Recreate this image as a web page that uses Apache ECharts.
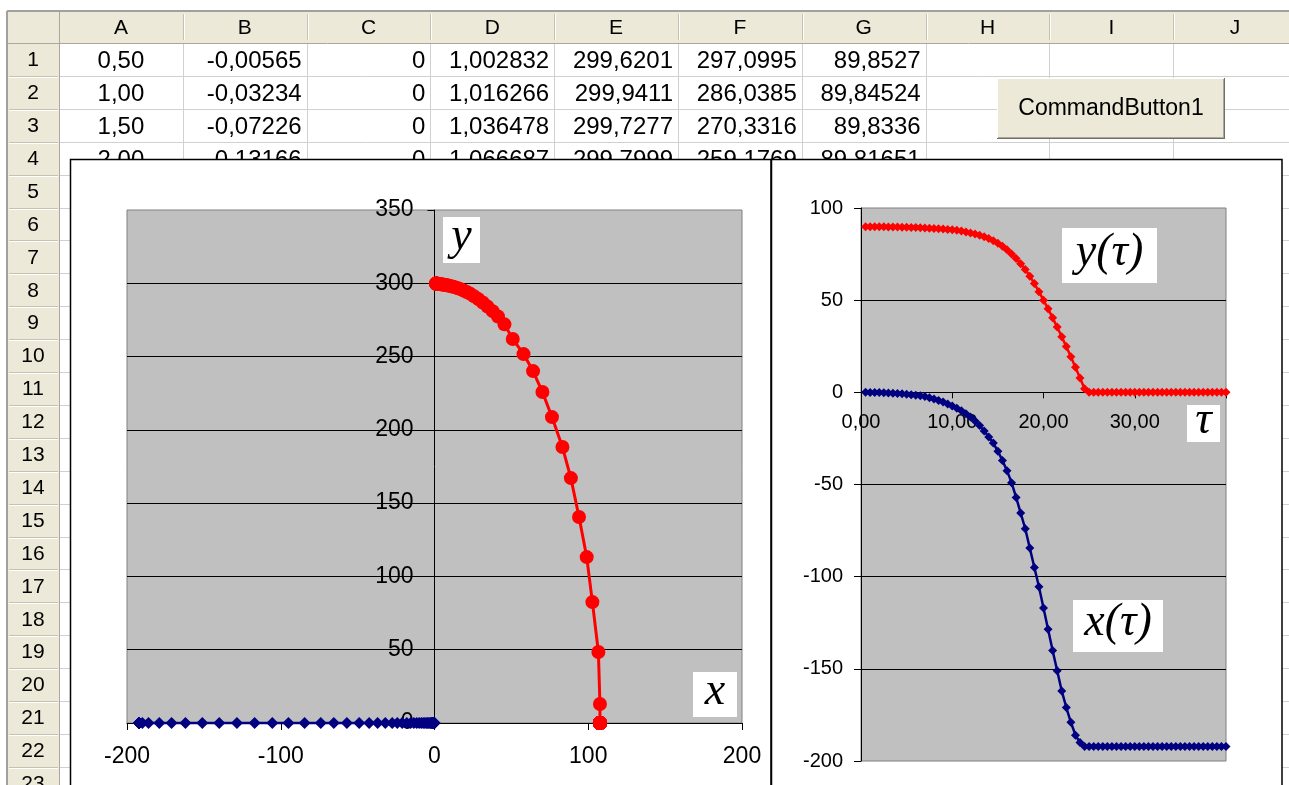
<!DOCTYPE html>
<html>
<head>
<meta charset="utf-8">
<script src="https://cdn.jsdelivr.net/npm/echarts@6/dist/echarts.min.js"></script>
<style>
html,body{margin:0;padding:0;background:#fff;overflow:hidden}
#c{width:1289px;height:785px}
</style>
</head>
<body>
<div id="c"></div>
<script>
// ---------------- DATA ----------------
const columnLetters = ['A','B','C','D','E','F','G','H','I','J'];
const rowNumbers = ['1','2','3','4','5','6','7','8','9','10','11','12','13','14','15','16','17','18','19','20','21','22','23'];
const cellRows = [
  ['0,50','-0,00565','0','1,002832','299,6201','297,0995','89,8527'],
  ['1,00','-0,03234','0','1,016266','299,9411','286,0385','89,84524'],
  ['1,50','-0,07226','0','1,036478','299,7277','270,3316','89,8336'],
  ['2,00','-0,13166','0','1,066687','299,7999','259,1769','89,81651']
];
const buttonLabel = 'CommandButton1';

// column A: tau
const tau = [0.5,1,1.5,2,2.5,3,3.5,4,4.5,5,5.5,6,6.5,7,7.5,8,8.5,9,9.5,10,
  10.5,11,11.5,12,12.5,13,13.5,14,14.5,15,15.5,16,16.5,17,17.5,18,18.5,19,19.5,20,
  20.5,21,21.5,22,22.5,23,23.5,24,24.5,25,25.5,26,26.5,27,27.5,28,28.5,29,29.5,30,
  30.5,31,31.5,32,32.5,33,33.5,34,34.5,35,35.5,36,36.5,37,37.5,38,38.5,39,39.5,40];
// column B: x(tau)
const xTau = [-0.00565,-0.03234,-0.07226,-0.13166,-0.21,-0.31,-0.44,-0.60,-0.80,-1.02,
  -1.28,-1.58,-1.92,-2.3,-2.9,-3.6,-4.4,-5.3,-6.3,-7.4,
  -8.6,-10.0,-11.6,-13.4,-15.5,-18.0,-21.0,-24.2,-27.5,-32,
  -37,-42.5,-49,-57,-65.5,-74,-84.5,-95,-105.5,-117,
  -128.5,-140,-151,-162,-171,-179,-186,-190,-192.2,-192.2,
  -192.2,-192.2,-192.2,-192.2,-192.2,-192.2,-192.2,-192.2,-192.2,-192.2,
  -192.2,-192.2,-192.2,-192.2,-192.2,-192.2,-192.2,-192.2,-192.2,-192.2,
  -192.2,-192.2,-192.2,-192.2,-192.2,-192.2,-192.2,-192.2,-192.2,-192.2];
// column C: zeros
const colC = [0,0,0,0,0,0,0,0,0,0,0,0,0,0,0,0,0,0,0,0,0,0,0,0,0,0,0,0,0,0,0,0,0,0,0,0,0,0,0,0,
  0,0,0,0,0,0,0,0,0,0,0,0,0,0,0,0,0,0,0,0,0,0,0,0,0,0,0,0,0,0,0,0,0,0,0,0,0,0,0,0];
// column D / E: trajectory
const trajX = [1.002832,1.016266,1.036478,1.066687,1.11,1.17,1.25,1.35,1.5,1.7,
  1.95,2.3,2.7,3.2,3.8,4.5,5.3,6.2,7.2,8.3,
  9.5,10.8,12.2,13.7,15.3,17.0,18.9,21.0,23.3,25.8,
  28.5,31.4,34.5,37.8,41.3,45.5,50.9,57.9,64.1,70.2,
  76.4,83.2,88.7,94.0,99.0,102.7,106.6,107.6,107.6,107.6,
  107.6,107.6,107.6,107.6,107.6,107.6,107.6,107.6,107.6,107.6,
  107.6,107.6,107.6,107.6,107.6,107.6,107.6,107.6,107.6,107.6,
  107.6,107.6,107.6,107.6,107.6,107.6,107.6,107.6,107.6,107.6];
const trajY = [299.6201,299.9411,299.7277,299.7999,299.75,299.78,299.72,299.74,299.70,299.68,
  299.64,299.6,299.55,299.5,299.42,299.3,299.2,299.0,298.8,298.6,
  298.3,298.0,297.6,297.2,296.6,296.0,295.1,294.1,292.8,291.1,
  289.2,286.9,284.1,281.0,277.3,272.0,262,251.7,240.1,225.8,
  208.7,188.3,167.1,140.5,113.2,82.5,48.4,13,0,0,
  0,0,0,0,0,0,0,0,0,0,0,0,0,0,0,0,0,0,0,0,0,0,0,0,0,0,0,0,0,0];
// column G: y(tau)
const yTau = [89.8527,89.84524,89.8336,89.81651,89.79,89.76,89.72,89.67,89.61,89.54,
  89.46,89.37,89.27,89.16,89.03,88.89,88.74,88.58,88.4,88.2,
  87.9,87.5,87.0,86.5,85.9,85.2,84.4,83.4,82.3,80.9,
  79.2,77.3,75.1,72.6,69.8,66.6,63.0,59.0,54.6,50.0,
  45.3,40.4,35.4,30.2,24.8,19.3,13.6,7.8,2.0,0,
  0,0,0,0,0,0,0,0,0,0,0,0,0,0,0,0,0,0,0,0,0,0,0,0,0,0,0,0,0,0];

const mathLabels = ['y','x','y(\u03c4)','\u03c4','x(\u03c4)'];

// ---------------- LAYOUT ----------------
const W = 1289, H = 785;
const sheetLeft = 7, sheetTop = 11, headerBottom = 43, rowH = 32.9, rowHeadRight = 59, colW = 123.8;
const SANS = '"Liberation Sans", Arial, sans-serif';
const SERIF = '"Liberation Serif", "Times New Roman", serif';
const els = [];
function line(x1,y1,x2,y2,color,w,z){
  els.push({type:'line',silent:true,z:z||0,shape:{x1:x1,y1:y1,x2:x2,y2:y2},style:{stroke:color,lineWidth:w||1}});
}
function rect(x,y,w,h,style,z){
  els.push({type:'rect',silent:true,z:z||0,shape:{x:x,y:y,width:w,height:h},style:style});
}
function text(str,x,y,font,align,valign,z,color){
  els.push({type:'text',silent:true,z:z||0,style:{text:str,x:x,y:y,font:font,fill:color||'#000',align:align,verticalAlign:valign||'middle'}});
}

rect(0,0,W,H,{fill:'#ffffff'});
// headers
rect(sheetLeft,sheetTop,W-sheetLeft,headerBottom-sheetTop,{fill:'#ECE9D8'});
rect(sheetLeft,headerBottom,rowHeadRight-sheetLeft,H-headerBottom,{fill:'#ECE9D8'});
// cell gridlines + row header separators
for (let i=1;i<=rowNumbers.length;i++){
  const y = Math.round(headerBottom+i*rowH)+0.5;
  line(rowHeadRight,y,W,y,'#D0D0D0');
  line(sheetLeft+2,y,rowHeadRight-1,y,'#C5C2B2');
  line(sheetLeft+2,y+1,rowHeadRight-1,y+1,'#FFFFFF');
}
for (let k=1;k<=columnLetters.length;k++){
  const x = Math.round(rowHeadRight+k*colW)+0.5;
  line(x,headerBottom,x,H,'#D0D0D0');
  line(x,sheetTop+3,x,headerBottom-3,'#C5C2B2');
  line(x+1,sheetTop+3,x+1,headerBottom-3,'#FFFFFF');
}
line(sheetLeft,headerBottom+0.5,W,headerBottom+0.5,'#ACA899');
line(rowHeadRight+0.5,sheetTop,rowHeadRight+0.5,H,'#ACA899');
line(sheetLeft,sheetTop,W,sheetTop,'#A0A0A0',2);
line(sheetLeft,sheetTop,sheetLeft,H,'#A0A0A0',2);
// header texts
columnLetters.forEach((c,k)=>text(c,rowHeadRight+(k+0.5)*colW,28,'21px '+SANS,'center','middle'));
rowNumbers.forEach((r,i)=>text(r,33,headerBottom+(i+0.5)*rowH+1,'21px '+SANS,'center','middle'));
// cell texts
cellRows.forEach((row,i)=>{
  const y = headerBottom+(i+0.5)*rowH+2;
  row.forEach((v,k)=>{
    if (k===0) text(v,rowHeadRight+(k+0.5)*colW,y,'24px '+SANS,'center','middle');
    else text(v,rowHeadRight+(k+1)*colW-5,y,'24px '+SANS,'right','middle');
  });
});
// command button
rect(997,78,228,61,{fill:'#ECE9D8'});
line(997,78.5,1225,78.5,'#FFFFFF',1);
line(997.5,78,997.5,139,'#FFFFFF',1);
line(997,138.5,1225,138.5,'#716F64',1);
line(1224.5,78,1224.5,139,'#716F64',1);
line(998,137.5,1224,137.5,'#ACA899',1);
line(1223.5,79,1223.5,138,'#ACA899',1);
text(buttonLabel,1111,109,'23px '+SANS,'center','middle');

// chart areas
rect(70.5,159.5,700.5,700,{fill:'#ffffff',stroke:'#000000',lineWidth:1.5},1);
rect(771.5,159.5,510.5,700,{fill:'#ffffff',stroke:'#000000',lineWidth:1.5},1);

// math labels
const boxes = [
  [443,217,37,46,46],
  [693,672,44,45,46],
  [1062,228,95,55,46],
  [1187,405,33,37,46],
  [1073,600,90,52,46]
];
boxes.forEach((b,i)=>{
  rect(b[0],b[1],b[2],b[3],{fill:'#ffffff'},20);
  text(mathLabels[i],b[0]+b[2]/2,b[1]+b[3]/2-3,'italic '+b[4]+'px '+SERIF,'center','middle',21);
});

// plot rectangles (layout)
const g1 = {left:127,top:210,width:615,height:513};
const g2 = {left:861,top:208,width:365,height:553};
// offsets so the axes cross at zero, as in the original
const yAxis1Offset = -(g1.width*200/400);          // y axis at x = 0
const xAxis2Offset = -(g2.height*200/300);         // x axis at y = 0

// ---------------- CHART ----------------
const chart = echarts.init(document.getElementById('c'), null, {renderer:'canvas'});
const axisTxt = (size)=>({color:'#000',fontSize:size,fontFamily:SANS});
const option = {
  animation:false,
  graphic:{elements:els},
  grid:[
    Object.assign({show:true,backgroundColor:'#C0C0C0',borderColor:'#808080',borderWidth:1,z:2},g1),
    Object.assign({show:true,backgroundColor:'#C0C0C0',borderColor:'#808080',borderWidth:1,z:2},g2)
  ],
  xAxis:[
    {gridIndex:0,type:'value',min:-200,max:200,interval:100,z:3,
     axisLine:{show:true,onZero:false,lineStyle:{color:'#000',width:1}},
     axisTick:{show:true,inside:false,length:7,lineStyle:{color:'#000'}},
     axisLabel:Object.assign({margin:22,showMinLabel:true,showMaxLabel:true},axisTxt(23)),
     splitLine:{show:false}},
    {gridIndex:1,type:'value',min:0,max:40,interval:10,z:3,offset:xAxis2Offset,
     axisLine:{show:true,onZero:false,lineStyle:{color:'#000',width:1}},
     axisTick:{show:true,inside:false,length:6,lineStyle:{color:'#000'}},
     axisLabel:Object.assign({margin:20,showMinLabel:true,showMaxLabel:true,
       formatter:(v)=> v===40 ? '' : v.toFixed(2).replace('.',',')},axisTxt(20)),
     splitLine:{show:false}}
  ],
  yAxis:[
    {gridIndex:0,type:'value',min:0,max:350,interval:50,z:3,offset:yAxis1Offset,
     axisLine:{show:true,onZero:false,lineStyle:{color:'#000',width:1}},
     axisTick:{show:true,inside:false,length:7,lineStyle:{color:'#000'}},
     axisLabel:Object.assign({margin:21,showMinLabel:true,showMaxLabel:true},axisTxt(23)),
     splitLine:{show:true,showMinLine:false,showMaxLine:false,lineStyle:{color:'#000',width:1.2}}},
    {gridIndex:1,type:'value',min:-200,max:100,interval:50,z:3,
     axisLine:{show:true,onZero:false,lineStyle:{color:'#000',width:1}},
     axisTick:{show:true,inside:false,length:7,lineStyle:{color:'#000'}},
     axisLabel:Object.assign({margin:18,showMinLabel:true,showMaxLabel:true},axisTxt(20)),
     splitLine:{show:true,showMinLine:false,showMaxLine:false,lineStyle:{color:'#000',width:1.2}}}
  ],
  series:[
    {name:'x0',type:'line',xAxisIndex:0,yAxisIndex:0,z:4,clip:false,
     data:xTau.map((v,i)=>[v,colC[i]]),
     symbol:'diamond',symbolSize:12,itemStyle:{color:'#000080',borderWidth:0},
     lineStyle:{color:'#000080',width:2.5},emphasis:{disabled:true}},
    {name:'traj',type:'line',xAxisIndex:0,yAxisIndex:0,z:4,clip:false,
     data:trajX.map((v,i)=>[v,trajY[i]]),
     symbol:'circle',symbolSize:14,itemStyle:{color:'#FF0000',borderWidth:0},
     lineStyle:{color:'#FF0000',width:3},emphasis:{disabled:true}},
    {name:'y(tau)',type:'line',xAxisIndex:1,yAxisIndex:1,z:4,clip:false,
     data:tau.map((t,i)=>[t,yTau[i]]),
     symbol:'diamond',symbolSize:9,itemStyle:{color:'#FF0000',borderWidth:0},
     lineStyle:{color:'#FF0000',width:2.5},emphasis:{disabled:true}},
    {name:'x(tau)',type:'line',xAxisIndex:1,yAxisIndex:1,z:4,clip:false,
     data:tau.map((t,i)=>[t,xTau[i]]),
     symbol:'diamond',symbolSize:9,itemStyle:{color:'#000080',borderWidth:0},
     lineStyle:{color:'#000080',width:2.5},emphasis:{disabled:true}}
  ]
};
chart.setOption(option);
</script>
</body>
</html>
